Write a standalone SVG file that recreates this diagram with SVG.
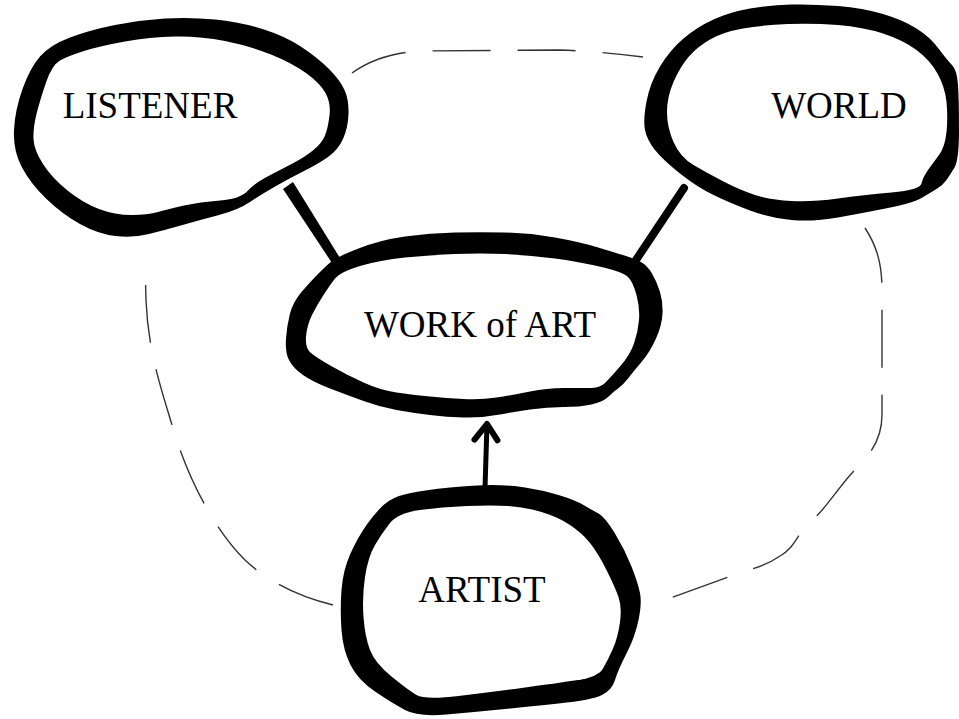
<svg xmlns="http://www.w3.org/2000/svg" width="959" height="719" viewBox="0 0 959 719">
<style>
.outer{fill:#000}
.inner{fill:#fff}
.label{font-family:"Liberation Serif","Times New Roman",serif;font-size:37px;fill:#000;text-anchor:middle}
.dash{fill:none;stroke:#333;stroke-width:1.4;stroke-dasharray:58 27}
.link{fill:none;stroke:#000;stroke-linecap:round}
</style>
<defs>
<marker id="arrow" markerUnits="userSpaceOnUse" viewBox="-22 -16 26 32" refX="0" refY="0" markerWidth="26" markerHeight="32" orient="auto">
<path d="M-16,-12 L0,0 L-16,11" fill="none" stroke="#000" stroke-width="6" stroke-linecap="round" stroke-linejoin="round"/>
</marker>
</defs>
<rect width="959" height="719" fill="#fff"/>
<g id="connectors">
<path class="dash" d="M333,605 C300,597 268,582 245,560 C210,525 185,470 172,425 C160,385 148,350 146,300 L145,262"/>
<path class="dash" d="M352,73 C370,60 390,53 420,51 L560,50 C590,51 620,54 643,57"/>
<path class="dash" d="M865,228 C876,245 882,262 882,290 L882,415 C882,440 870,455 852,473 C835,492 825,510 810,522 C798,532 795,548 780,556 C770,563 760,567 745,571 L665,600"/>
<polygon points="283,189 293,182 340,258 332,263" fill="#000"/>
<path class="link" d="M684,188 L636,260" stroke-width="8"/>
<path class="link" d="M485,488 L487,424" stroke-width="5" marker-end="url(#arrow)"/>
</g>
<g id="listener">
<path class="outer" d="M348.5,114 Q348,128 343,139 Q338,150 328,157 Q318,164 304,171 Q290,178 276,186 Q262,194 250,202 Q238,210 219,215 Q200,220 182.5,225 Q165,230 149,234 Q133,238 115.5,236 Q98,234 80,224 Q62,214 46,198.5 Q30,183 21.5,166.5 Q13,150 14,130 Q15,110 22.5,89 Q30,68 40,56.5 Q50,45 70,37.5 Q90,30 115,25 Q140,20 165,18.5 Q190,17 215,19.5 Q240,22 262.5,29 Q285,36 301.5,47 Q318,58 329,69 Q340,80 344.5,90 Q349,100 348.5,114 Z"/>
<path class="inner" d="M329.5,115.5 Q328,128 325,135.5 Q322,143 313.5,150 Q305,157 292.5,163.5 Q280,170 267.5,176.5 Q255,183 247.5,191 Q240,199 220,200.5 Q200,202 184,205.5 Q168,209 158,212 Q148,215 131.5,215 Q115,215 99,209 Q83,203 67.5,190.5 Q52,178 43,164 Q34,150 33.5,139 Q33,128 36.5,114 Q40,100 46,82.5 Q52,65 60,60.5 Q68,56 84,51 Q100,46 125,41.5 Q150,37 175,36.5 Q200,36 225,41 Q250,46 271,54.5 Q292,63 306,73 Q320,83 325.5,93 Q331,103 329.5,115.5 Z"/>
<text class="label" x="150" y="118">LISTENER</text>
</g>
<g id="world">
<path class="outer" d="M646.5,101.5 Q650,83 660,66.5 Q670,50 683.5,38.5 Q697,27 713.5,19.5 Q730,12 750,8.5 Q770,5 791.5,4.5 Q813,4 838,6 Q863,8 883,14 Q903,20 916.5,28.5 Q930,37 938.5,48.5 Q947,60 952,65 Q957,70 958,85 Q959,100 959,130 Q959,160 954.5,167.5 Q950,175 946.5,180 Q943,185 936.5,189 Q930,193 921.5,198 Q913,203 888,208 Q863,213 838,217.5 Q813,222 791.5,220 Q770,218 750,210.5 Q730,203 713.5,195 Q697,187 680,173.5 Q663,160 655,150 Q647,140 645,130 Q643,120 646.5,101.5 Z"/>
<path class="inner" d="M667,112 Q667,97 673.5,82 Q680,67 688.5,57 Q697,47 710,39.5 Q723,32 743,28.5 Q763,25 788,24 Q813,23 838,25 Q863,27 883,33.5 Q903,40 916.5,50 Q930,60 937.5,73.5 Q945,87 946.5,102 Q948,117 946.5,132 Q945,147 939,155 Q933,163 928,170 Q923,177 921.5,183.5 Q920,190 891.5,192.5 Q863,195 838,198.5 Q813,202 791.5,201 Q770,200 755,195 Q740,190 723.5,181.5 Q707,173 693.5,165 Q680,157 673.5,142 Q667,127 667,112 Z"/>
<text class="label" x="839" y="118">WORLD</text>
</g>
<g id="work-of-art">
<path class="outer" d="M358.5,248.5 Q380,240 405,236.5 Q430,233 455,232.5 Q480,232 505,232.5 Q530,233 555,237.5 Q580,242 596.5,247 Q613,252 623,255 Q633,258 640,261.5 Q647,265 652,273.5 Q657,282 660,292 Q663,302 662.5,313.5 Q662,325 656,338.5 Q650,352 641.5,362 Q633,372 628,378.5 Q623,385 618,388.5 Q613,392 608,397 Q603,402 591.5,404.5 Q580,407 563.5,407 Q547,407 530,409.5 Q513,412 496.5,415 Q480,418 463.5,417.5 Q447,417 430,415 Q413,413 396.5,410 Q380,407 363.5,401 Q347,395 330,388.5 Q313,382 303,375 Q293,368 289,360 Q285,352 286,338.5 Q287,325 290,313.5 Q293,302 301.5,292 Q310,282 318.5,273.5 Q327,265 332,261 Q337,257 358.5,248.5 Z"/>
<path class="inner" d="M360,266 Q380,260 405,257.5 Q430,255 455,254 Q480,253 505,254 Q530,255 555,258.5 Q580,262 601.5,267 Q623,272 628,277 Q633,282 636.5,295 Q640,308 639,320 Q638,332 634,343.5 Q630,355 620,366.5 Q610,378 605,383 Q600,388 590,388 Q580,388 563.5,388 Q547,388 530,391.5 Q513,395 496.5,397.5 Q480,400 463.5,399 Q447,398 430,396.5 Q413,395 396.5,392.5 Q380,390 363.5,382.5 Q347,375 332,366.5 Q317,358 311,353 Q305,348 306,336.5 Q307,325 312,315 Q317,305 323.5,295 Q330,285 335,278.5 Q340,272 360,266 Z"/>
<text class="label" x="480" y="337">WORK of ART</text>
</g>
<g id="artist">
<path class="outer" d="M408.5,493.5 Q425,490 450,487.5 Q475,485 491.5,485 Q508,485 525,487.5 Q542,490 558.5,495 Q575,500 583.5,505 Q592,510 598.5,513.5 Q605,517 615,533.5 Q625,550 631.5,566.5 Q638,583 640,593 Q642,603 638.5,620 Q635,637 626.5,653.5 Q618,670 615,680 Q612,690 602,695 Q592,700 558.5,703.5 Q525,707 500,709.5 Q475,712 446.5,714.5 Q418,717 405,710 Q392,703 375,691.5 Q358,680 350.5,665 Q343,650 341.5,630 Q340,610 341.5,590 Q343,570 350.5,553.5 Q358,537 366.5,525 Q375,513 383.5,505 Q392,497 408.5,493.5 Z"/>
<path class="inner" d="M420,510 Q442,507 467,506 Q492,505 508.5,506 Q525,507 541.5,512 Q558,517 570,525 Q582,533 590,543 Q598,553 606.5,570 Q615,587 618.5,597 Q622,607 620,622 Q618,637 613,648.5 Q608,660 603,668.5 Q598,677 578,680 Q558,683 525,687.5 Q492,692 458.5,696 Q425,700 416.5,695 Q408,690 391.5,676.5 Q375,663 370,650 Q365,637 363.5,617 Q362,597 365,577 Q368,557 375,545 Q382,533 390,523 Q398,513 420,510 Z"/>
<text class="label" x="482" y="602">ARTIST</text>
</g>
</svg>
